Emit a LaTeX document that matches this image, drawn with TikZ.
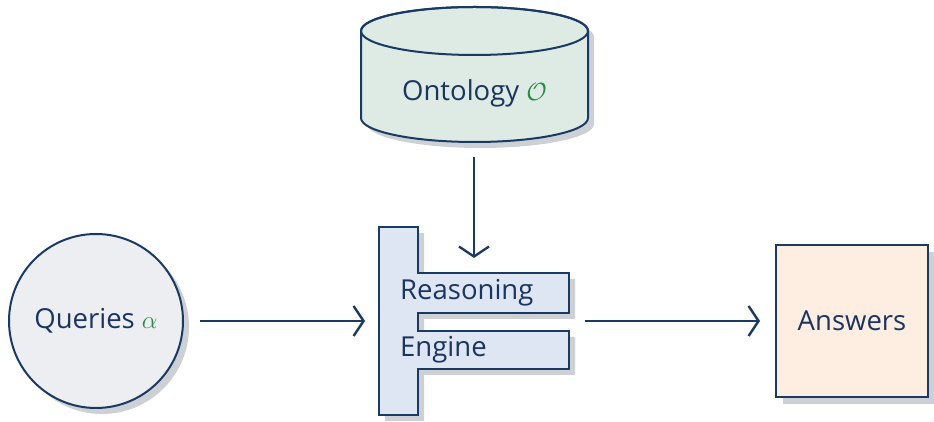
\documentclass[tikz,border=0pt]{standalone}
\usepackage{fontspec}
\setmainfont{Open Sans}
\usetikzlibrary{arrows.meta}
\definecolor{navy}{HTML}{1B3A63}
\definecolor{txt}{HTML}{1B3560}
\definecolor{grn}{HTML}{2A8A4A}
\definecolor{cylfill}{HTML}{DDEBE4}
\definecolor{circfill}{HTML}{ECEEF1}
\definecolor{engfill}{HTML}{DEE6F3}
\definecolor{ansfill}{HTML}{FDEEE1}
\definecolor{shad}{HTML}{CDD1D5}
\tikzset{
  outline/.style={draw=navy, line width=2pt, line join=miter},
  shadowfill/.style={fill=shad},
  lbl/.style={text=txt, font=\fontsize{27.5}{32}\selectfont, inner sep=0pt},
  flow/.style={draw=navy, line width=2.4pt, -{Straight Barb[length=10pt,width=30pt,line width=2.4pt]}}
}
\begin{document}
\begin{tikzpicture}[x=1pt,y=1pt]
\useasboundingbox (0,0) rectangle (934,422);
% Cylinder shadow
\fill[shadowfill] (367,385) -- (367,298) arc[start angle=180,end angle=360,x radius=113.5,y radius=24] -- (594,385) arc[start angle=0,end angle=180,x radius=113.5,y radius=24] -- cycle;
% Cylinder
\path[outline, fill=cylfill] (361,391) -- (361,304) arc[start angle=180,end angle=360,x radius=113.5,y radius=24] -- (588,391) arc[start angle=0,end angle=180,x radius=113.5,y radius=24] -- cycle;
\draw[outline] (474.5,391) ellipse[x radius=113.5,y radius=24];
\node[lbl] (onto) at (474.5,329) {Ontology \textcolor{grn}{$\mathcal{O}$}};
% Queries circle
\fill[shadowfill] (102,95) circle[radius=87];
\node[circle, outline, fill=circfill, minimum size=174pt, inner sep=0pt] (q) at (96,101) {};
\node[lbl] (qt) at (96,101) {Queries \textcolor{grn}{$\alpha$}};
% Answers box
\fill[shadowfill] (783,170) rectangle (935,18);
\node[outline, fill=ansfill, minimum width=152pt, minimum height=152pt, inner sep=0pt] (ans) at (852,101) {};
\node[lbl] (at) at (852,101) {Answers};
% Engine shadow
\fill[shadowfill] (385,189) -- (424,189) -- (424,143) -- (575,143) -- (575,103) -- (424,103) -- (424,85) -- (575,85) -- (575,47) -- (424,47) -- (424,1) -- (385,1) -- cycle;
% Engine
\path[outline, fill=engfill] (379,195) -- (418,195) -- (418,149) -- (569,149) -- (569,109) -- (418,109) -- (418,91) -- (569,91) -- (569,53) -- (418,53) -- (418,7) -- (379,7) -- cycle;
\node[lbl, anchor=base west] (r1) at (400,122) {Reasoning};
\node[lbl, anchor=base west] (r2) at (400,65) {Engine};
% Connector endpoints
\coordinate (qa) at (200,101);
\coordinate (ea) at (365,101);
\coordinate (ot) at (474,265);
\coordinate (et) at (474,164);
\coordinate (eb) at (585,101);
\coordinate (aa) at (760,101);
\draw[flow] (qa) -- (ea);
\draw[flow] (ot) -- (et);
\draw[flow] (eb) -- (aa);
\end{tikzpicture}
\end{document}
